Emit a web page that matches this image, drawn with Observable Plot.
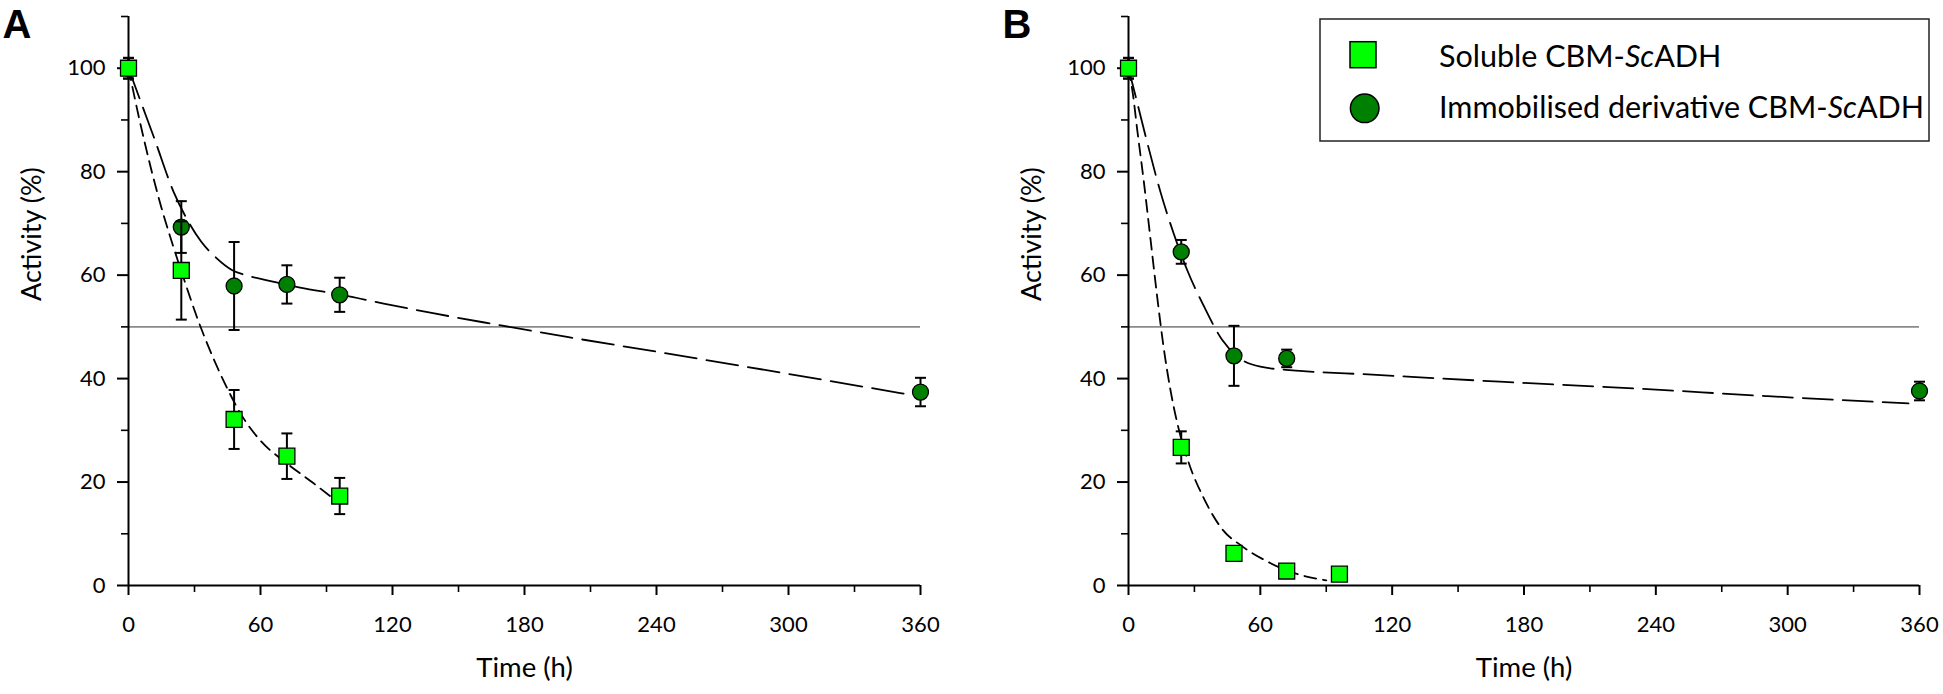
<!DOCTYPE html>
<html>
<head>
<meta charset="utf-8">
<script src="https://cdn.jsdelivr.net/npm/d3@7"></script>
<script src="https://cdn.jsdelivr.net/npm/@observablehq/plot@0.6"></script>
<style>
  html, body { margin: 0; padding: 0; background: #fff; }
  #root { position: relative; width: 1943px; height: 694px; overflow: hidden; background: #fff; font-family: Lato, sans-serif; }
  .panel { position: absolute; top: 0; }
  #legend { position: absolute; left: 1319px; top: 18px; }
</style>
</head>
<body>
<div id="root"></div>
<script>
// ---------- axes ----------
const timeTicks = [0, 60, 120, 180, 240, 300, 360];
const timeMinor = [30, 90, 150, 210, 270, 330];
const actTicks = [0, 20, 40, 60, 80, 100];
const actMinor = [10, 30, 50, 70, 90, 110];
const halfActivity = [50];

// ---------- panel A ----------
const aSolT = [0, 24, 48, 72, 96];
const aSolV = [100, 60.9, 32.1, 25.0, 17.3];
const aSolE = [2, 9.5, 5.7, 4.4, 3.5];
const aImmT = [0, 24, 48, 72, 96, 360];
const aImmV = [100, 69.3, 57.9, 58.2, 56.2, 37.4];
const aImmE = [2, 5, 8.5, 3.7, 3.3, 2.75];
const aSolFitT = [0, 5, 10, 15, 20, 25, 31, 38, 45, 52, 60, 72, 84, 94];
const aSolFitV = [100, 90, 81, 73, 66, 59.5, 52, 44.5, 38, 32.5, 28, 23.6, 19.8, 16.5];
const aImmFitT = [0, 5, 11.5, 20.6, 27, 33, 40, 47, 55, 63, 78, 97, 116, 139, 165, 200, 240, 300, 355];
const aImmFitV = [100, 94.2, 86.7, 76, 70.5, 66.5, 63.3, 61, 59.8, 59, 57.6, 56.2, 54.5, 52.6, 50.6, 48, 45.2, 40.9, 36.9];

// ---------- panel B ----------
const bSolT = [0, 24, 48, 72, 96];
const bSolV = [100, 26.7, 6.2, 2.8, 2.2];
const bSolE = [2, 3.1, 0.8, 0.8, 0.6];
const bImmT = [0, 24, 48, 72, 360];
const bImmV = [100, 64.5, 44.4, 43.9, 37.6];
const bImmE = [2, 2.3, 5.8, 1.7, 1.8];
const bSolFitT = [0, 2, 4, 7, 10, 13, 16, 19, 23, 28, 34, 43, 51, 62, 74, 90];
const bSolFitV = [100, 95, 88, 78, 67, 56, 46, 38, 30, 23, 17.1, 10.7, 7.8, 4.9, 2.6, 1.0];
const bImmFitT = [0, 2.4, 7.7, 14.6, 20.6, 26.7, 34.3, 42.6, 51, 60, 78, 109, 169, 230, 291, 355];
const bImmFitV = [100, 96, 87, 76, 68, 61, 54, 47.5, 43.8, 42.3, 41.5, 40.8, 39.4, 38.1, 36.6, 35.2];

const xLabel = "Time (h)";
const yLabel = "Activity (%)";
const seriesNames = ["Soluble CBM-", "Sc", "ADH", "Immobilised derivative CBM-"];
const solColor = "#00ff00";
const immColor = "#008000";

const zip = (T, V, E) => T.map((t, i) => ({t, v: V[i], e: E ? E[i] : 0}));

// horizontal error-bar cap symbol (width = 2r)
const capSymbol = {
  draw(ctx, size) {
    const r = Math.sqrt(size / Math.PI);
    ctx.moveTo(-r, 0);
    ctx.lineTo(r, 0);
  }
};

function errorMarks(data) {
  return [
    Plot.ruleX(data, {x: "t", y1: d => d.v - d.e, y2: d => d.v + d.e, stroke: "black", strokeWidth: 2}),
    Plot.dot(data, {x: "t", y: d => d.v + d.e, symbol: capSymbol, r: 5.5, stroke: "black", strokeWidth: 2, fill: "none"}),
    Plot.dot(data, {x: "t", y: d => d.v - d.e, symbol: capSymbol, r: 5.5, stroke: "black", strokeWidth: 2, fill: "none"})
  ];
}

function panel(cfg) {
  const sol = zip(cfg.solT, cfg.solV, cfg.solE);
  const imm = zip(cfg.immT, cfg.immV, cfg.immE);
  const solFit = zip(cfg.solFitT, cfg.solFitV);
  const immFit = zip(cfg.immFitT, cfg.immFitV);
  return Plot.plot({
    width: cfg.width,
    height: 694,
    marginLeft: 128,
    marginRight: cfg.marginRight,
    marginTop: 16,
    marginBottom: 109,
    style: {fontFamily: "Lato, sans-serif", fontSize: "22px", color: "black", background: "white", overflow: "visible"},
    x: {domain: [0, 360]},
    y: {domain: [0, 110]},
    marks: [
      Plot.ruleY(halfActivity, {stroke: "#8a8a8a", strokeWidth: 1.8}),
      Plot.line(solFit, {x: "t", y: "v", stroke: "black", strokeWidth: 1.8, strokeDasharray: "12,7", curve: "monotone-x"}),
      Plot.line(immFit, {x: "t", y: "v", stroke: "black", strokeWidth: 1.8, strokeDasharray: cfg.immDash, curve: "monotone-x"}),
      // axis lines
      Plot.ruleX([0], {stroke: "black", strokeWidth: 2}),
      Plot.ruleY([0], {stroke: "black", strokeWidth: 2}),
      Plot.axisY({ticks: actTicks, tickSize: 11, tickPadding: 12, strokeWidth: 2, label: null, fontSize: 22}),
      Plot.axisY({ticks: actMinor, tickSize: 7, tickFormat: () => "", strokeWidth: 1.6, label: null}),
      Plot.axisX({ticks: timeTicks, tickSize: 10, tickPadding: 21, strokeWidth: 2, label: null, fontSize: 22}),
      Plot.axisX({ticks: timeMinor, tickSize: 7, tickFormat: () => "", strokeWidth: 1.6, label: null}),
      // data
      ...errorMarks(imm),
      Plot.dot(imm, {x: "t", y: "v", r: 8, fill: immColor, stroke: "black", strokeWidth: 1.3}),
      ...errorMarks(sol),
      Plot.dot(sol, {x: "t", y: "v", r: 9, symbol: "square", fill: solColor, stroke: "black", strokeWidth: 1.3}),
      // titles
      Plot.text([yLabel], {frameAnchor: "left", dx: -96, rotate: -90, fontSize: 27, text: d => d}),
      Plot.text([xLabel], {frameAnchor: "bottom", dy: 91, fontSize: 27.5, text: d => d}),
      Plot.text([cfg.letter], {frameAnchor: "top-left", dx: -126, dy: 21, lineAnchor: "bottom", textAnchor: "start",
        fontSize: 40, fontWeight: "bold", fontFamily: "'Liberation Sans', Arial, sans-serif", text: d => d})
    ]
  });
}

const root = document.getElementById("root");

const pA = panel({letter: "A", width: 960, marginRight: 40,
  solT: aSolT, solV: aSolV, solE: aSolE, immT: aImmT, immV: aImmV, immE: aImmE,
  solFitT: aSolFitT, solFitV: aSolFitV, immFitT: aImmFitT, immFitV: aImmFitV, immDash: "32,10"});
pA.classList.add("panel");
pA.style.left = "0px";
root.appendChild(pA);

const pB = panel({letter: "B", width: 943, marginRight: 24,
  solT: bSolT, solV: bSolV, solE: bSolE, immT: bImmT, immV: bImmV, immE: bImmE,
  solFitT: bSolFitT, solFitV: bSolFitV, immFitT: bImmFitT, immFitV: bImmFitV, immDash: "30,10"});
pB.classList.add("panel");
pB.style.left = "1000px";
root.appendChild(pB);

// legend (overlaid in panel B)
const lg = d3.select(root).append("svg").attr("id", "legend").attr("width", 612).attr("height", 125)
  .style("font-family", "Lato, sans-serif");
lg.append("rect").attr("x", 1).attr("y", 1).attr("width", 609).attr("height", 122)
  .attr("fill", "white").attr("stroke", "#222").attr("stroke-width", 1.5);
lg.append("rect").attr("x", 31).attr("y", 23.7).attr("width", 26).attr("height", 26)
  .attr("fill", solColor).attr("stroke", "black").attr("stroke-width", 1.5);
lg.append("circle").attr("cx", 45.7).attr("cy", 90.3).attr("r", 14.3)
  .attr("fill", immColor).attr("stroke", "black").attr("stroke-width", 1.5);
const t1 = lg.append("text").attr("x", 120).attr("y", 48.7).attr("font-size", 30.5);
t1.append("tspan").text(seriesNames[0]);
t1.append("tspan").attr("font-style", "italic").text(seriesNames[1]);
t1.append("tspan").text(seriesNames[2]);
const t2 = lg.append("text").attr("x", 120).attr("y", 100.3).attr("font-size", 30.5);
t2.append("tspan").text(seriesNames[3]);
t2.append("tspan").attr("font-style", "italic").text(seriesNames[1]);
t2.append("tspan").text(seriesNames[2]);
</script>
</body>
</html>
